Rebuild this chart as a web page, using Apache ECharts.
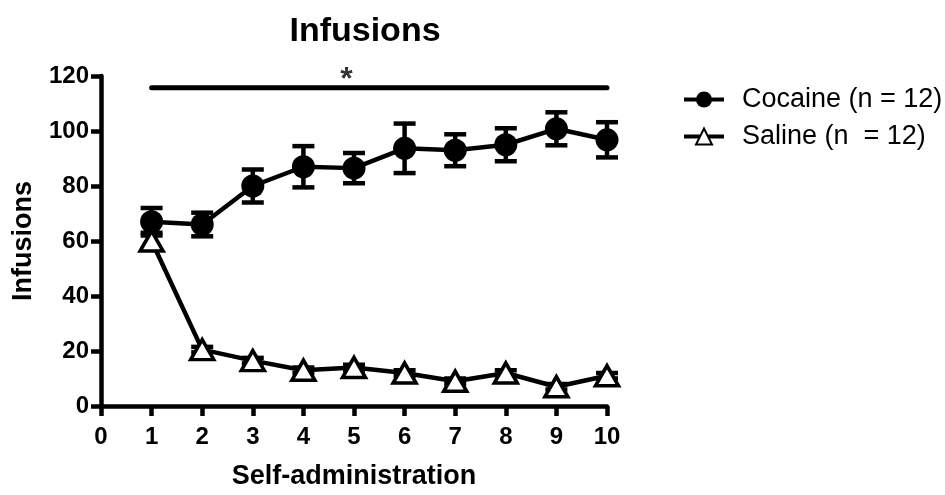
<!DOCTYPE html>
<html><head><meta charset="utf-8">
<script src="https://cdn.jsdelivr.net/npm/echarts@6/dist/echarts.min.js"></script>
<style>html,body{margin:0;padding:0;background:#fff}#c{width:945px;height:495px}</style>
</head><body><div id="c"></div>
<script>
const sessions = [1,2,3,4,5,6,7,8,9,10];
const cocaineMean = [67,66,80,87,86.5,93.7,93,95,100.8,96.8];
const cocaineSem  = [5,4.3,6,7.5,5.5,9,5.8,6,6,6.4];
const salineMean  = [60,20.5,16.5,13,14,12,9,12,7,11];
const salineSem   = [3,1,1,1,1,1,1,1,1,1];
const xTicks = [0,1,2,3,4,5,6,7,8,9,10];
const yTicks = [0,20,40,60,80,100,120];
const sigBar = {from:1, to:10, y:115.7, starX:4.85, starY:118.5};

const font = '"Liberation Sans", Arial, sans-serif';
const chart = echarts.init(document.getElementById('c'));

function errData(mean, sem){ return sessions.map((s,i)=>[s, mean[i]-sem[i], mean[i]+sem[i]]); }
function errRender(params, api){
  const x = api.value(0);
  const lo = api.coord([x, api.value(1)]);
  const hi = api.coord([x, api.value(2)]);
  const w = 11;
  const st = {stroke:'#000', lineWidth:4.5};
  return {type:'group', children:[
    {type:'line', shape:{x1:lo[0],y1:lo[1],x2:hi[0],y2:hi[1]}, style:st},
    {type:'line', shape:{x1:hi[0]-w,y1:hi[1],x2:hi[0]+w,y2:hi[1]}, style:st},
    {type:'line', shape:{x1:lo[0]-w,y1:lo[1],x2:lo[0]+w,y2:lo[1]}, style:st}
  ]};
}

chart.setOption({
  animation:false,
  title:{text:'Infusions', left:360, top:10, textAlign:'center',
    textStyle:{fontFamily:font, fontWeight:'bold', fontSize:34, color:'#000'}},
  legend:{data:['Cocaine (n = 12)','Saline (n  = 12)'], orient:'vertical', left:682, top:86, padding:0,
    itemWidth:40, itemHeight:20, itemGap:10,
    lineStyle:{width:4, color:'#000'},
    textStyle:{fontFamily:font, fontSize:27, color:'#000', padding:[0,0,0,13]}},
  grid:{left:101, right:338, top:76, bottom:82},
  xAxis:{type:'value', min:0, max:10, interval:1,
    name:'Self-administration', nameLocation:'middle', nameGap:57,
    nameTextStyle:{fontFamily:font, fontWeight:'bold', fontSize:27, color:'#000'},
    axisLine:{lineStyle:{color:'#000', width:4.5}},
    axisTick:{show:true, length:10, lineStyle:{color:'#000', width:4.5}},
    axisLabel:{fontFamily:font, fontWeight:'bold', fontSize:24, color:'#000', margin:19},
    splitLine:{show:false}},
  yAxis:{type:'value', min:0, max:120, interval:20,
    name:'Infusions', nameLocation:'middle', nameGap:64,
    nameTextStyle:{fontFamily:font, fontWeight:'bold', fontSize:27, color:'#000'},
    axisLine:{show:true, lineStyle:{color:'#000', width:4.5}},
    axisTick:{show:true, length:10, lineStyle:{color:'#000', width:4.5}},
    axisLabel:{fontFamily:font, fontWeight:'bold', fontSize:24, color:'#000', margin:12},
    splitLine:{show:false}},
  series:[
    {type:'custom', renderItem:errRender, data:errData(salineMean, salineSem), z:2, silent:true},
    {type:'custom', renderItem:errRender, data:errData(cocaineMean, cocaineSem), z:2, silent:true},
    {name:'Saline (n  = 12)', type:'line', data:sessions.map((s,i)=>[s,salineMean[i]]),
      symbol:'triangle', symbolSize:[23,20], showAllSymbol:true,
      lineStyle:{color:'#000', width:4.5}, itemStyle:{color:'#fff', borderColor:'#000', borderWidth:3.5}, z:3},
    {name:'Cocaine (n = 12)', type:'line', data:sessions.map((s,i)=>[s,cocaineMean[i]]),
      symbol:'circle', symbolSize:23, showAllSymbol:true,
      lineStyle:{color:'#000', width:4.5}, itemStyle:{color:'#000'}, z:4},
    {type:'line', data:[[sigBar.from,sigBar.y],[sigBar.to,sigBar.y]], symbol:'none',
      lineStyle:{color:'#000', width:5, cap:'round'}, silent:true},
    {type:'scatter', data:[[sigBar.starX, sigBar.starY]], symbolSize:1, itemStyle:{color:'transparent'},
      label:{show:true, formatter:'*', position:'inside', fontFamily:font, fontWeight:'bold', fontSize:32, color:'#000'}, silent:true}
  ]
});
</script></body></html>
